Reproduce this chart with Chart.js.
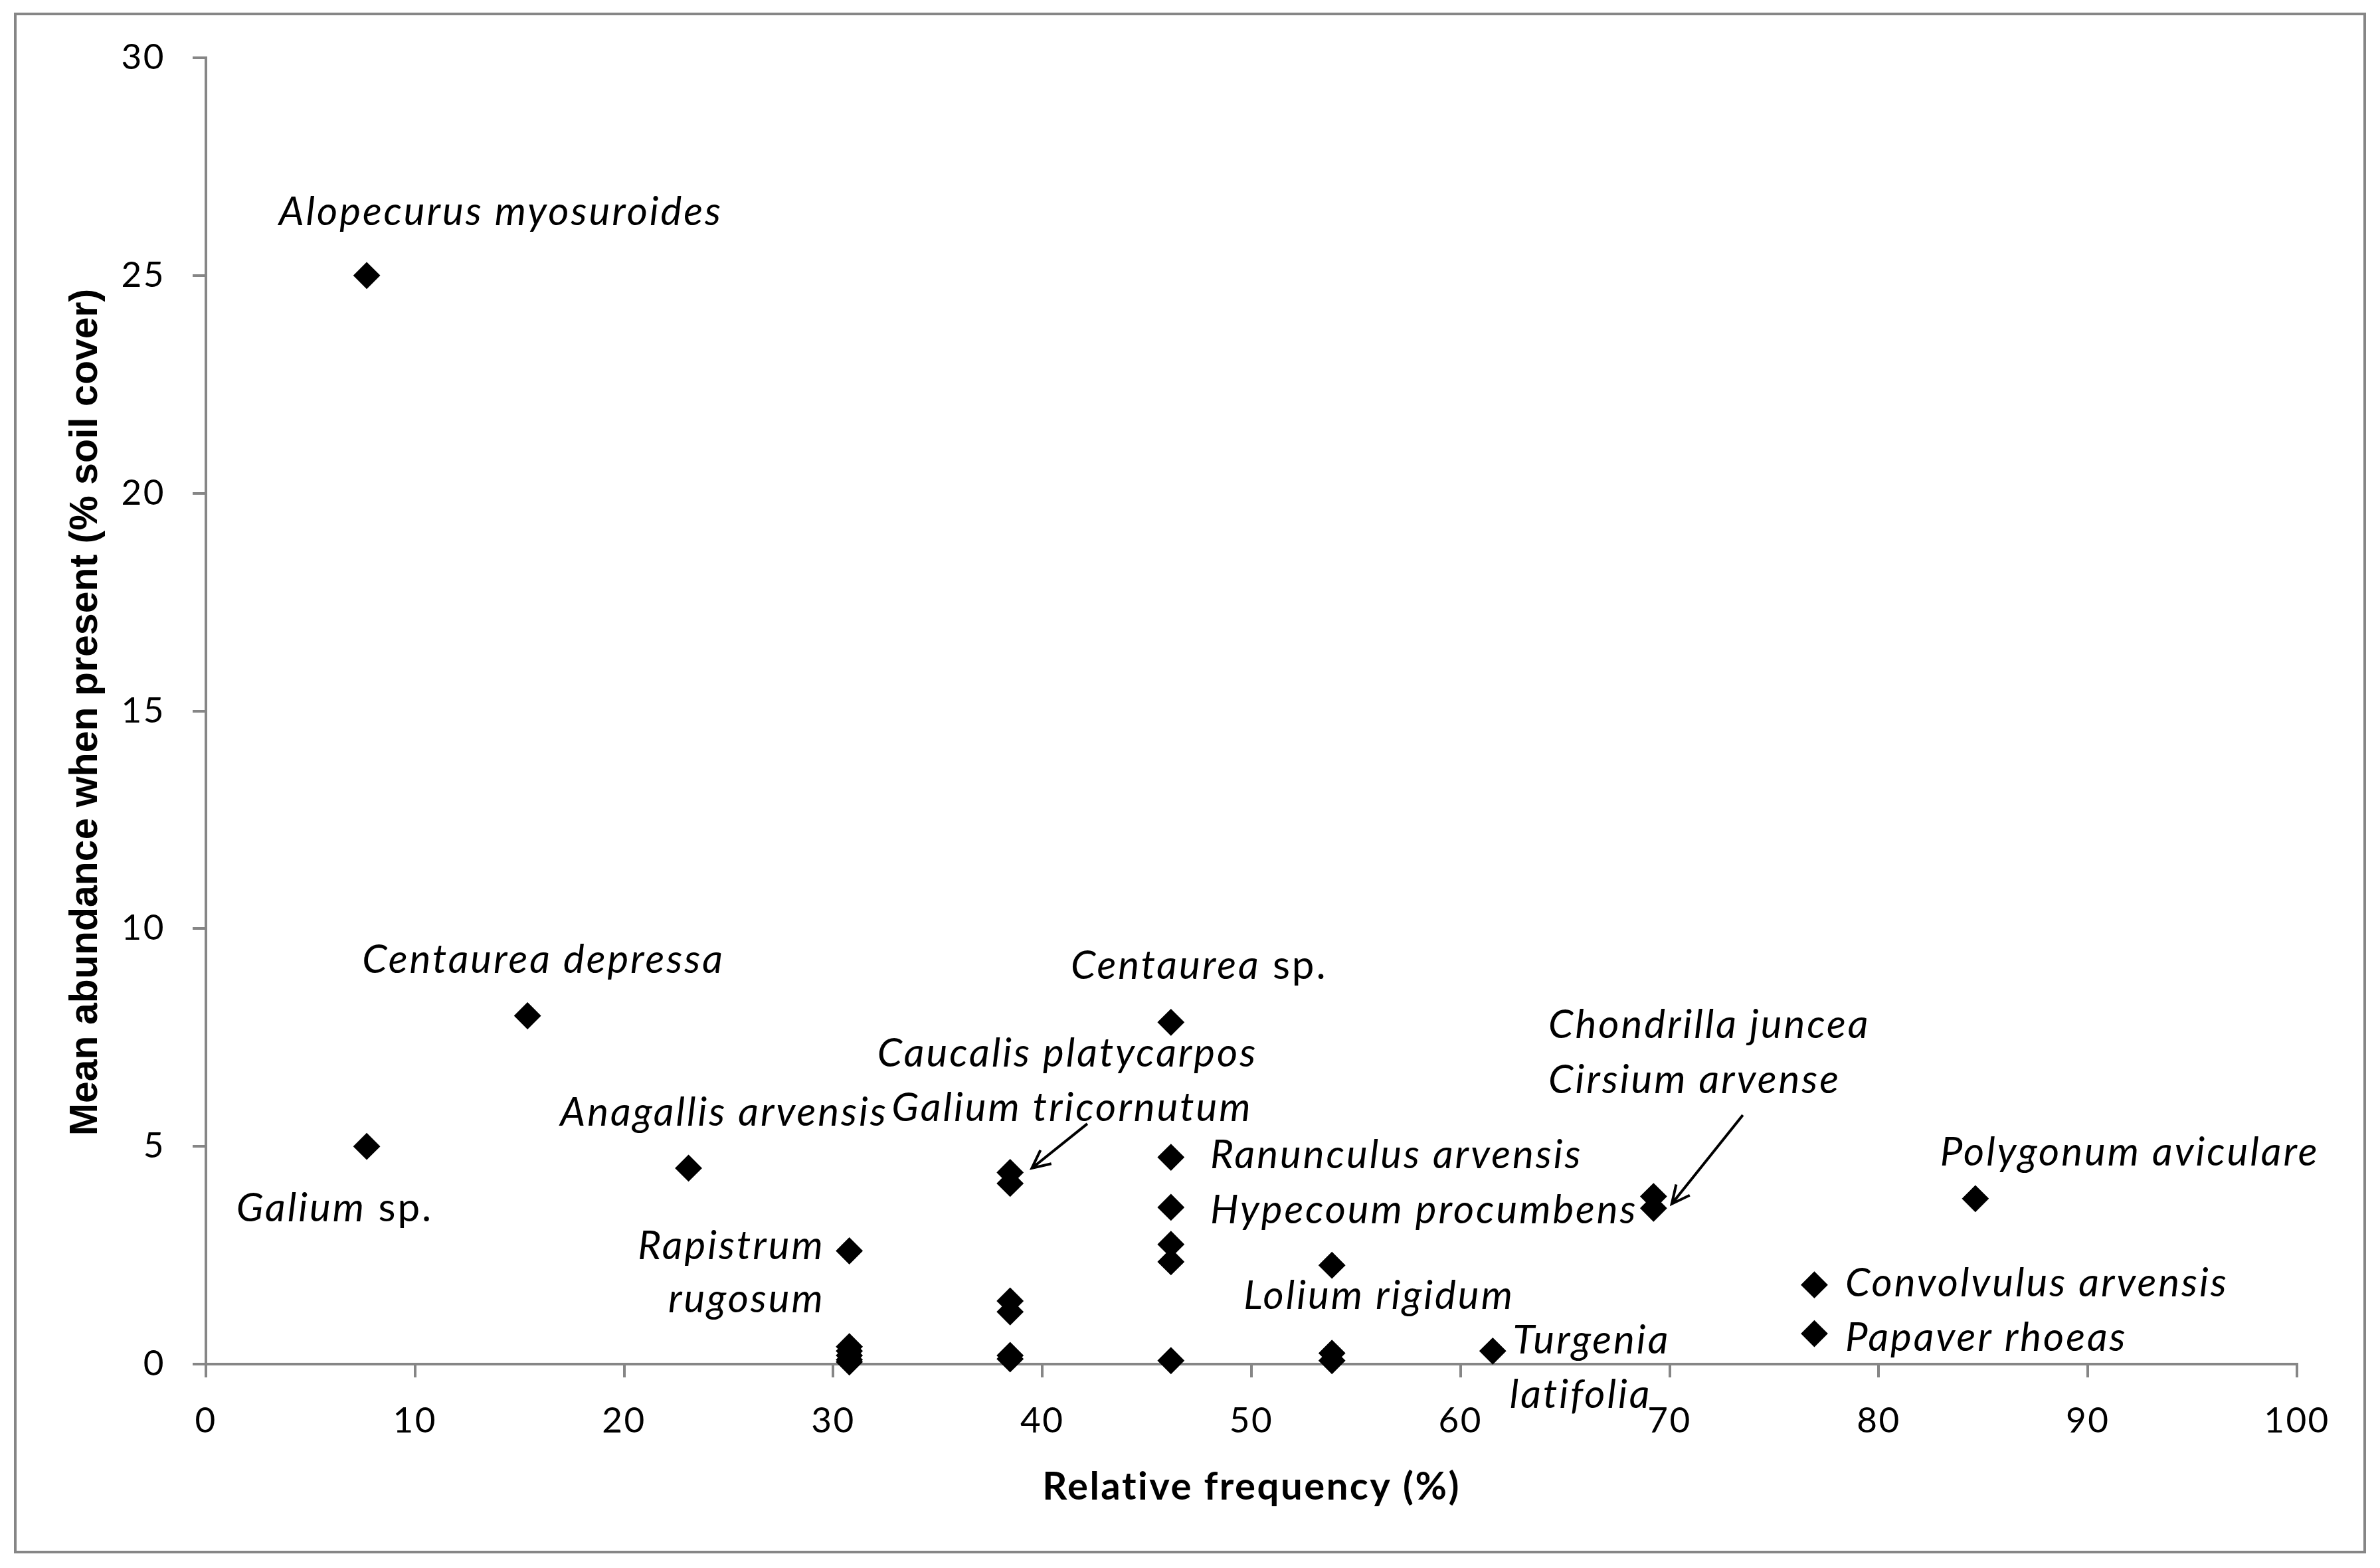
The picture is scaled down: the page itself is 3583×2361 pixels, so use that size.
<!DOCTYPE html>
<html>
<head>
<meta charset="utf-8">
<script src="https://cdn.jsdelivr.net/npm/chart.js@4.4.0/dist/chart.umd.min.js"></script>
<style>
html, body { margin: 0; padding: 0; background: #fff; }
#wrap { width: 3583px; height: 2361px; }
</style>
</head>
<body>
<div id="wrap"><canvas id="chart" width="3583" height="2361"></canvas></div>
<script>
// relative frequency (%) and mean abundance when present (% soil cover)
const frequency = [7.69, 7.69, 15.38, 23.08,
  30.77, 30.77, 30.77, 30.77, 30.77, 30.77,
  38.46, 38.46, 38.46, 38.46, 38.46, 38.46,
  46.15, 46.15, 46.15, 46.15, 46.15, 46.15,
  53.85, 53.85, 53.85, 61.54, 69.23, 69.23, 76.92, 76.92, 84.62];
const abundance = [25, 5, 8, 4.5,
  2.6, 0.4, 0.3, 0.2, 0.1, 0.05,
  4.4, 4.15, 1.45, 1.2, 0.2, 0.12,
  7.85, 4.75, 3.6, 2.75, 2.35, 0.08,
  2.27, 0.25, 0.08, 0.3, 3.85, 3.58, 1.82, 0.7, 3.8];

const xTicks = [0, 10, 20, 30, 40, 50, 60, 70, 80, 90, 100];
const yTicks = [0, 5, 10, 15, 20, 25, 30];

const xTitle = 'Relative frequency (%)';
const yTitle = 'Mean abundance when present (% soil cover)';

// species names written on the chart (italic part, upright part)
const labelNames = ['Alopecurus myosuroides', 'Centaurea depressa', 'Galium', 'Anagallis arvensis',
  'Caucalis platycarpos', 'Galium tricornutum', 'Centaurea', 'Ranunculus arvensis',
  'Hypecoum procumbens', 'Rapistrum', 'rugosum', 'Lolium rigidum', 'Turgenia', 'latifolia',
  'Chondrilla juncea', 'Cirsium arvense', 'Polygonum aviculare', 'Convolvulus arvensis', 'Papaver rhoeas'];
const labelSuffix = ['', '', ' sp.', '', '', '', ' sp.', '', '', '', '', '', '', '', '', '', '', '', ''];

// where each name sits, in axis units (x anchor, baseline y, alignment)
const labelAt = [
  [14.1, 26.16, 'center'], [16.14, 8.98, 'center'], [6.16, 3.28, 'center'], [24.78, 5.47, 'center'],
  [41.2, 6.83, 'center'], [41.42, 5.58, 'center'], [47.5, 8.85, 'center'], [48.03, 4.5, 'left'],
  [48.03, 3.23, 'left'], [29.6, 2.41, 'right'], [29.6, 1.19, 'right'], [56.1, 1.27, 'center'],
  [62.5, 0.24, 'left'], [62.35, -1.0, 'left'], [64.2, 7.49, 'left'], [64.2, 6.22, 'left'],
  [92.0, 4.56, 'center'], [78.4, 1.56, 'left'], [78.4, 0.3, 'left']
];
// arrows: from (x1,y1) to (x2,y2) in axis units
const arrows = [[42.15, 5.52, 39.5, 4.5], [73.5, 5.72, 70.1, 3.68]];

const labelFont = 'italic 60px Lato';
const uprightFont = '60px Lato';

const speciesLabels = {
  id: 'speciesLabels',
  beforeDraw(chart) {
    const ctx = chart.ctx;
    ctx.save();
    ctx.fillStyle = '#fff';
    ctx.fillRect(0, 0, chart.width, chart.height);
    ctx.strokeStyle = '#868686';
    ctx.lineWidth = 4;
    ctx.strokeRect(23, 21, 3537, 2316);
    ctx.restore();
    // the original text is set a little looser than Lato
    ctx.letterSpacing = '2.5px';
  },
  afterDatasetsDraw(chart) {
    const {ctx, scales: {x, y}} = chart;
    ctx.save();
    ctx.letterSpacing = '3px';
    ctx.fillStyle = '#000';
    ctx.textBaseline = 'alphabetic';
    ctx.textAlign = 'left';
    labelNames.forEach((name, i) => {
      const [lx, ly, align] = labelAt[i];
      ctx.font = labelFont;
      const w1 = ctx.measureText(name).width;
      ctx.font = uprightFont;
      const w2 = ctx.measureText(labelSuffix[i]).width;
      const total = w1 + w2;
      let px = x.getPixelForValue(lx);
      if (align === 'center') px -= total / 2;
      else if (align === 'right') px -= total;
      const py = y.getPixelForValue(ly);
      ctx.font = labelFont;
      ctx.fillText(name, px, py);
      if (labelSuffix[i]) {
        ctx.font = uprightFont;
        ctx.fillText(labelSuffix[i], px + w1, py);
      }
    });
    ctx.strokeStyle = '#000';
    ctx.lineWidth = 4;
    arrows.forEach(([x1, y1, x2, y2]) => {
      const ax = x.getPixelForValue(x1), ay = y.getPixelForValue(y1);
      const bx = x.getPixelForValue(x2), by = y.getPixelForValue(y2);
      const ang = Math.atan2(by - ay, bx - ax);
      const head = 30;
      ctx.beginPath();
      ctx.moveTo(ax, ay);
      ctx.lineTo(bx, by);
      ctx.moveTo(bx - head * Math.cos(ang - 0.45), by - head * Math.sin(ang - 0.45));
      ctx.lineTo(bx, by);
      ctx.lineTo(bx - head * Math.cos(ang + 0.45), by - head * Math.sin(ang + 0.45));
      ctx.stroke();
    });
    ctx.restore();
  },
  afterDraw(chart) {
    const {ctx, chartArea} = chart;
    ctx.letterSpacing = '0px';
    // y axis title, set in a tighter bold face than the rest
    ctx.save();
    ctx.translate(130, (chartArea.top + chartArea.bottom) / 2 + 2);
    ctx.rotate(-Math.PI / 2);
    ctx.font = 'bold 59px "Liberation Sans"';
    ctx.fillStyle = '#000';
    ctx.textAlign = 'center';
    ctx.textBaseline = 'middle';
    ctx.fillText(yTitle, 0, 0);
    ctx.restore();
  }
};

Chart.defaults.font.family = 'Lato';
Chart.defaults.color = '#000';

const points = frequency.map((f, i) => ({x: f, y: abundance[i]}));

new Chart(document.getElementById('chart'), {
  type: 'scatter',
  data: {
    datasets: [{
      label: 'species',
      data: points,
      pointStyle: 'rectRot',
      pointRadius: 19,
      pointBorderWidth: 2,
      backgroundColor: '#000',
      borderColor: '#000',
      clip: false
    }]
  },
  options: {
    responsive: false,
    animation: false,
    devicePixelRatio: 1,
    layout: {padding: {top: 87, right: 125, left: 0, bottom: 0}},
    plugins: {legend: {display: false}, tooltip: {enabled: false}},
    scales: {
      x: {
        type: 'linear', min: 0, max: 100,
        afterBuildTicks: (s) => { s.ticks = xTicks.map(v => ({value: v})); },
        afterFit: (s) => { s.height = 307; },
        ticks: {color: '#000', font: {size: 53}, padding: 34, maxRotation: 0},
        grid: {drawOnChartArea: false, color: '#868686', lineWidth: 4, tickLength: 20},
        border: {color: '#868686', width: 4},
        title: {display: true, text: xTitle, color: '#000',
          font: {size: 58, weight: 'bold'}, padding: {top: 0, bottom: 87}}
      },
      y: {
        type: 'linear', min: 0, max: 30,
        afterBuildTicks: (s) => { s.ticks = yTicks.map(v => ({value: v})); },
        afterFit: (s) => { s.width = 310; },
        ticks: {color: '#000', font: {size: 53}, padding: 41},
        grid: {drawOnChartArea: false, color: '#868686', lineWidth: 4, tickLength: 20},
        border: {color: '#868686', width: 4},
        title: {display: false}
      }
    }
  },
  plugins: [speciesLabels]
});
</script>
</body>
</html>
